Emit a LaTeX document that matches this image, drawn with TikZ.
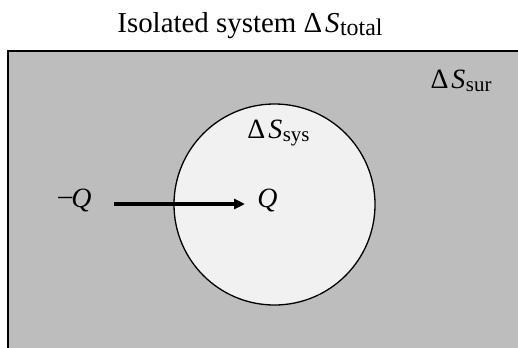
\documentclass[tikz,border=0pt]{standalone}
\usepackage{fontspec}
\setmainfont{Liberation Serif}
\usetikzlibrary{arrows.meta}
\definecolor{surgray}{HTML}{BDBDBD}
\definecolor{sysfill}{HTML}{F1F1F1}
\newcommand{\dS}[2]{Δ\kern3pt\textit{S}\kern0.5pt\raisebox{-3.5pt}{\fontsize{#2}{#2}\selectfont #1}}
\tikzset{
  lbl/.style={inner sep=0pt, font=\fontsize{28}{28}\selectfont, anchor=base},
  ttl/.style={inner sep=0pt, font=\fontsize{29}{29}\selectfont, anchor=base},
  heat/.style={line width=3.6bp, -{Triangle[length=11bp,width=10bp]}},
}
\begin{document}
\begin{tikzpicture}[x=1bp,y=-1bp]
\useasboundingbox (0,0) rectangle (518,347);
\clip (0,0) rectangle (518,347);
\draw[fill=surgray, line width=2bp] (8,51) rectangle (540,370);
\node[draw, line width=1.3bp, fill=sysfill, circle, minimum size=201bp, inner sep=0pt] (sys) at (274.5,204.5) {};
\node[ttl] (title) at (250,32) {Isolated system \dS{total}{24}};
\node[lbl] (sur) at (461,88) {\dS{sur}{21}};
\node[lbl] (syslbl) at (278.5,138) {\dS{sys}{21}};
\node[lbl] (mq) at (75,207) {\raisebox{3pt}{–}\kern-1pt\textit{Q}};
\node[lbl] (q) at (267.5,207) {\textit{Q}};
\coordinate (from) at (114,204);
\coordinate (to) at (245,204);
\draw[heat] (from) -- (to);
\end{tikzpicture}
\end{document}
